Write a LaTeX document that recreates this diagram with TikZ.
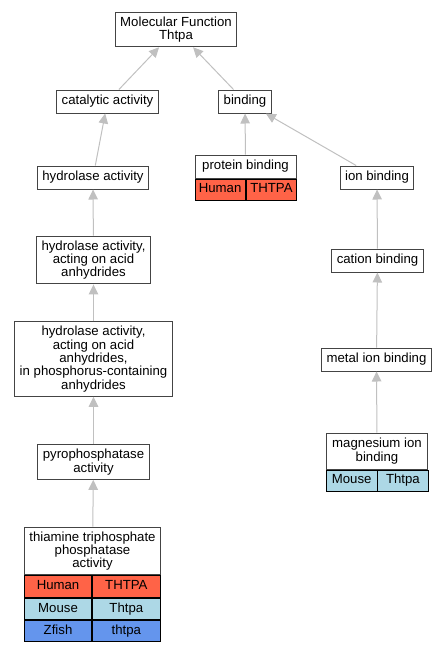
\documentclass[tikz,border=0pt]{standalone}
\usepackage{fontspec}
\setmainfont{Liberation Sans}
\usepackage{tikz}
\usetikzlibrary{shapes, arrows.meta, positioning}
\definecolor{boxgray}{HTML}{444444}
\definecolor{edgegray}{HTML}{C0C0C0}
\definecolor{human}{HTML}{FF6347}
\definecolor{mouse}{HTML}{ADD8E6}
\definecolor{zfish}{HTML}{6495ED}
\tikzstyle{block} = [draw=boxgray, line width=1pt, fill=white, rectangle, align=center, inner xsep=5pt, inner ysep=4.5pt, minimum height=23pt]
\tikzstyle{cell} = [draw=black, line width=0.8pt, rectangle, inner sep=0pt, minimum height=21.4pt, text height=9.4pt, text depth=2.7pt]
\tikzstyle{edge} = [draw=edgegray, line width=1pt, -{Triangle[length=10pt, width=9.5pt]}]

\begin{document}
\begin{tikzpicture}[x=1pt, y=1pt, font=\fontsize{13.2}{13.3}\selectfont]
  \useasboundingbox (0,0) rectangle (445,-651);
  \node [block] (mf) at (176,-29.5) {Molecular Function\\Thtpa};
  \node [block, below of=mf, xshift=-68.5pt, node distance=72pt] (cat) {catalytic activity};
  \node [block, below of=mf, xshift=69pt, node distance=72pt] (bind) {binding};
  \node [block, below of=cat, xshift=-14.5pt, node distance=76pt] (hyd) {hydrolase activity};
  \node [block, below of=hyd, xshift=0.5pt, node distance=82.5pt] (haa) {hydrolase activity,\\acting on acid\\anhydrides};
  \node [block, below of=haa, node distance=99pt] (hap) {hydrolase activity,\\acting on acid\\anhydrides,\\in phosphorus-containing\\anhydrides};
  \node [block, below of=hap, node distance=103pt] (pyro) {pyrophosphatase\\activity};
  \node [block, below of=pyro, xshift=-1pt, node distance=89pt, minimum width=135pt] (thi) {thiamine triphosphate\\phosphatase\\activity};
  \node [block, below of=bind, xshift=0.5pt, node distance=65pt, minimum width=101pt] (pb) {protein binding};
  \node [block, below of=bind, xshift=132pt, node distance=76pt] (ion) {ion binding};
  \node [block, below of=ion, xshift=0.5pt, node distance=83pt] (cation) {cation binding};
  \node [block, below of=cation, xshift=-1pt, node distance=99pt] (metal) {metal ion binding};
  \node [block, below of=metal, xshift=0.5pt, node distance=91.5pt, minimum width=101pt, minimum height=36pt] (mg) {magnesium ion\\binding};
  \node [cell, fill=human, minimum width=50.5pt, below right=0pt and 0pt of pb.south west] (pbh) {Human};
  \node [cell, fill=human, minimum width=50.5pt, right=0pt of pbh] (pbg) {THTPA};
  \node [cell, fill=mouse, minimum width=50.5pt, below right=0pt and 0pt of mg.south west] (mgm) {Mouse};
  \node [cell, fill=mouse, minimum width=50.5pt, right=0pt of mgm] (mgg) {Thtpa};
  \node [cell, fill=human, minimum width=67.5pt, below right=0pt and 0pt of thi.south west] (thih) {Human};
  \node [cell, fill=human, minimum width=67.5pt, right=0pt of thih] (thihg) {THTPA};
  \node [cell, fill=mouse, minimum width=67.5pt, below=0pt of thih] (thim) {Mouse};
  \node [cell, fill=mouse, minimum width=67.5pt, right=0pt of thim] (thimg) {Thtpa};
  \node [cell, fill=zfish, minimum width=67.5pt, below=0pt of thim] (thiz) {Zfish};
  \node [cell, fill=zfish, minimum width=67.5pt, right=0pt of thiz] (thizg) {thtpa};
  \draw [edge] (cat) -- (mf);
  \draw [edge] (bind) -- (mf);
  \draw [edge] (hyd) -- (cat);
  \draw [edge] (haa) -- (hyd);
  \draw [edge] (hap) -- (haa);
  \draw [edge] (pyro) -- (hap);
  \draw [edge] (thi) -- (pyro);
  \draw [edge] (pb) -- (bind);
  \draw [edge] (ion) -- (bind);
  \draw [edge] (cation) -- (ion);
  \draw [edge] (metal) -- (cation);
  \draw [edge] (mg) -- (metal);
\end{tikzpicture}
\end{document}
